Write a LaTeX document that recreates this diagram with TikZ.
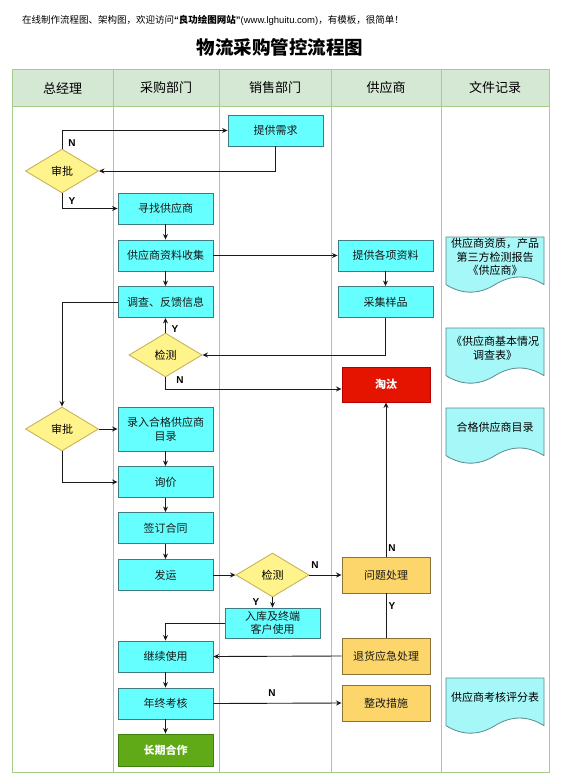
\documentclass[tikz,border=0pt]{standalone}
\usepackage{fontspec}
\setmainfont{Noto Sans CJK SC}
\newfontfamily\labfont{Liberation Sans}
\usetikzlibrary{arrows.meta,shapes.geometric}
\definecolor{pfill}{HTML}{66FFFF}
\definecolor{pline}{HTML}{3F7C82}
\definecolor{dfill}{HTML}{FFF38C}
\definecolor{dline}{HTML}{C9B35A}
\definecolor{ofill}{HTML}{FDD66B}
\definecolor{oline}{HTML}{8C7238}
\definecolor{rfill}{HTML}{E51400}
\definecolor{rline}{HTML}{B20000}
\definecolor{gfill}{HTML}{60A917}
\definecolor{gline}{HTML}{3F7F0F}
\definecolor{hfill}{HTML}{D5E8D4}
\definecolor{lanel}{HTML}{A9CC8E}
\definecolor{docfill}{HTML}{A6F7F8}
\definecolor{docline}{HTML}{5B8A90}
\definecolor{conn}{HTML}{1A1A1A}
\begin{document}
\begin{tikzpicture}[x=1pt,y=-1pt,
  proc/.style={draw=pline,fill=pfill,line width=0.9pt,minimum width=95pt,minimum height=31pt,inner sep=0pt,align=center,font=\fontsize{11}{14}\selectfont,text=black!90},
  orng/.style={proc,draw=oline,fill=ofill,minimum width=88pt,minimum height=36pt},
  redbox/.style={proc,draw=rline,fill=rfill,text=white,minimum width=88pt,minimum height=35pt,font=\fontsize{11}{14}\selectfont\bfseries},
  grnbox/.style={proc,draw=gline,fill=gfill,text=white,minimum height=32pt,font=\fontsize{11}{14}\selectfont\bfseries},
  dia/.style={diamond,draw=dline,fill=dfill,line width=0.9pt,minimum width=73pt,minimum height=44pt,inner sep=0pt,font=\fontsize{11}{14}\selectfont},
  arr/.style={draw=conn,line width=0.9pt,-{Stealth[length=5.5pt,width=5pt]}},
  ln/.style={draw=conn,line width=0.9pt},
  lab/.style={font=\labfont\fontsize{10}{12}\selectfont\bfseries,inner sep=0pt},
  docst/.style={draw=docline,fill=docfill,line width=0.8pt},
  doctxt/.style={align=center,font=\fontsize{11}{13.5}\selectfont,inner sep=0pt},
  hdr/.style={font=\fontsize{13}{15}\selectfont,inner sep=0pt}
]
\useasboundingbox (0,0) rectangle (561,784);
\fill[white] (0,0) rectangle (561,784);
% top note and title
\node[anchor=west,inner sep=0pt,font=\fontsize{9.5}{11}\selectfont] (note) at (22,20) {在线制作流程图、架构图，欢迎访问{\labfont\bfseries “}\textbf{良功绘图网站}{\labfont\bfseries ”}{\labfont (www.lghuitu.com)}，有模板，很简单！};
\node[inner sep=0pt,font=\fontsize{18.5}{22}\selectfont\bfseries] (title) at (280,47) {物流采购管控流程图};
% lanes
\fill[hfill] (12,70) rectangle (549,106);
\draw[lanel,line width=1pt] (12,70) rectangle (549,772);
\draw[lanel,line width=1pt] (12,106) -- (549,106);
\foreach \xx in {113,219,331,441} \draw[lanel,line width=1pt] (\xx,70) -- (\xx,772);
\node[hdr] (h1) at (62.5,88) {总经理};
\node[hdr] (h2) at (166,88) {采购部门};
\node[hdr] (h3) at (275,88) {销售部门};
\node[hdr] (h4) at (386,88) {供应商};
\node[hdr] (h5) at (495,88) {文件记录};
% nodes
\node[proc] (xq) at (275.5,130.5) {提供需求};
\node[dia] (sp1) at (62,171) {审批};
\node[proc] (xz) at (165.5,208.5) {寻找供应商};
\node[proc] (sj) at (165.5,255.5) {供应商资料收集};
\node[proc] (dc) at (165.5,302) {调查、反馈信息};
\node[proc] (tg) at (385.5,255.5) {提供各项资料};
\node[proc] (cj) at (385.5,302) {采集样品};
\node[dia] (jc1) at (165.5,355) {检测};
\node[redbox] (tt) at (386,384.5) {淘汰};
\node[dia] (sp2) at (62,429) {审批};
\node[proc,minimum height=44pt] (lr) at (165.5,429) {录入合格供应商\\目录};
\node[proc] (xj) at (165.5,482) {询价};
\node[proc] (qd) at (165.5,528) {签订合同};
\node[proc] (fy) at (165.5,575) {发运};
\node[dia] (jc2) at (272.5,575) {检测};
\node[orng] (wt) at (386,575) {问题处理};
\node[proc,minimum height=30pt,font=\fontsize{11}{13}\selectfont] (rk) at (272.5,623) {入库及终端\\客户使用};
\node[orng] (th) at (386,656) {退货应急处理};
\node[proc] (jx) at (165.5,656.5) {继续使用};
\node[orng] (zg) at (386,703) {整改措施};
\node[proc] (nz) at (165.5,703.5) {年终考核};
\node[grnbox] (cq) at (165.5,750) {长期合作};
% connectors
\draw[arr] (sp1.north) |- (xq.west);
\draw[arr] (xq.south) |- (sp1.east);
\draw[arr] (sp1.south) |- (xz.west);
\draw[arr] (xz) -- (sj);
\draw[arr] (sj) -- (dc);
\draw[arr] (sj.east) -- (tg.west);
\draw[arr] (tg) -- (cj);
\draw[arr] (cj.south) |- (jc1.east);
\draw[arr] (jc1.north) -- (dc.south);
\draw[arr] (jc1.south) |- ([yshift=-4.5pt]tt.west);
\draw[arr] (dc.west) -| (sp2.north);
\draw[arr] (sp2.east) -- (lr.west);
\draw[arr] (sp2.south) |- (xj.west);
\draw[arr] (lr) -- (xj);
\draw[arr] (xj) -- (qd);
\draw[arr] (qd) -- (fy);
\draw[arr] (fy.east) -- (jc2.west);
\draw[arr] (jc2.east) -- (wt.west);
\draw[arr] (jc2.south) -- (rk.north);
\draw[arr] (rk.west) -| (jx.north);
\draw[arr] (wt.north) -- (tt.south);
\draw[ln] (wt.south) -- (th.north);
\draw[arr] (th.west) -- (jx.east);
\draw[arr] (jx) -- (nz);
\draw[arr] (nz) -- (cq);
\draw[arr] (nz.east) -- (zg.west);
% labels
\node[lab] (l1) at (72,143) {N};
\node[lab] (l2) at (72,201) {Y};
\node[lab] (l3) at (175,329) {Y};
\node[lab] (l4) at (180,380) {N};
\node[lab] (l5) at (315,565) {N};
\node[lab] (l6) at (256,602) {Y};
\node[lab] (l7) at (392,548) {N};
\node[lab] (l8) at (392,606) {Y};
\node[lab] (l9) at (272,693) {N};
% documents
\begin{scope}[shift={(446,237)}]
\draw[docst] (0,0) -- (98,0) -- (98,47.6) .. controls (81.7,37.5) and (65.3,37.5) .. (49,47.6) .. controls (32.7,57.7) and (16.3,57.7) .. (0,47.6) -- cycle;
\node[doctxt] (d1) at (49,20) {供应商资质，产品\\第三方检测报告\\《供应商》};
\end{scope}
\begin{scope}[shift={(446,328)}]
\draw[docst] (0,0) -- (98,0) -- (98,47.6) .. controls (81.7,37.5) and (65.3,37.5) .. (49,47.6) .. controls (32.7,57.7) and (16.3,57.7) .. (0,47.6) -- cycle;
\node[doctxt] (d2) at (49,20.5) {《供应商基本情况\\调查表》};
\end{scope}
\begin{scope}[shift={(446,408)}]
\draw[docst] (0,0) -- (98,0) -- (98,47.6) .. controls (81.7,37.5) and (65.3,37.5) .. (49,47.6) .. controls (32.7,57.7) and (16.3,57.7) .. (0,47.6) -- cycle;
\node[doctxt] (d3) at (49,19) {合格供应商目录};
\end{scope}
\begin{scope}[shift={(446,678)}]
\draw[docst] (0,0) -- (98,0) -- (98,47.6) .. controls (81.7,37.5) and (65.3,37.5) .. (49,47.6) .. controls (32.7,57.7) and (16.3,57.7) .. (0,47.6) -- cycle;
\node[doctxt] (d4) at (49,19) {供应商考核评分表};
\end{scope}
\end{tikzpicture}
\end{document}
